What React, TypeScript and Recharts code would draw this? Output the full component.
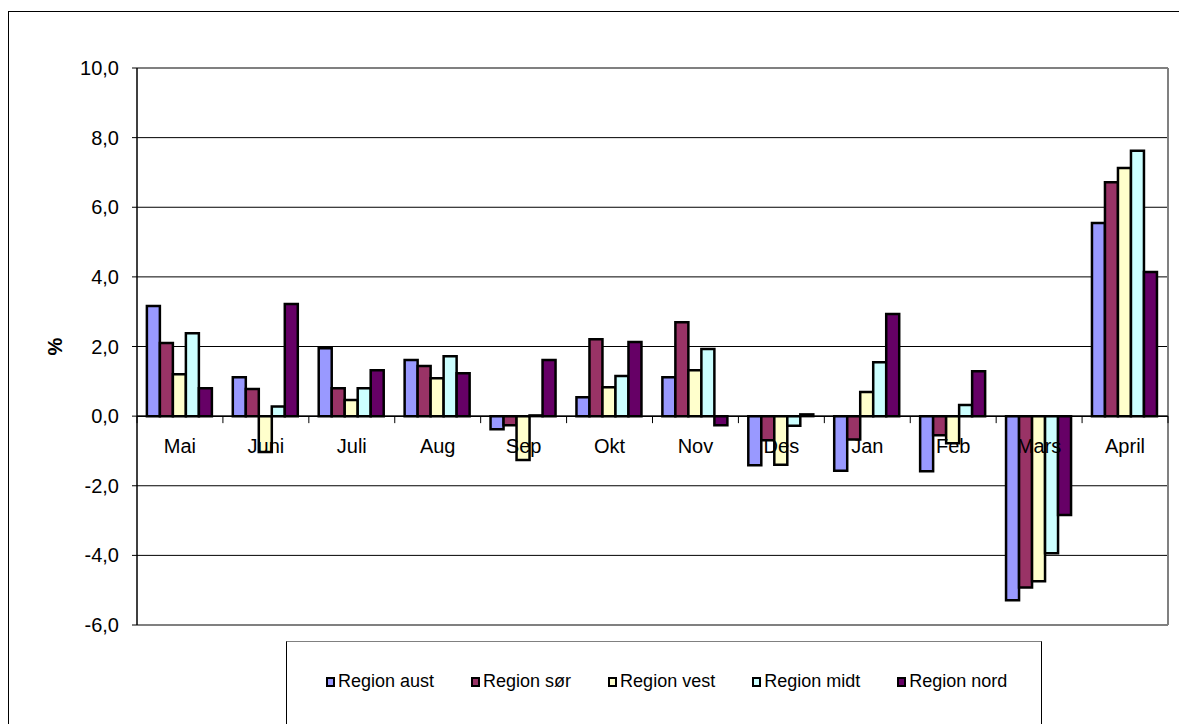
import React from "react";
import {
  BarChart,
  Bar,
  XAxis,
  YAxis,
  CartesianGrid,
  ReferenceLine,
} from "recharts";

const months = ["Mai", "Juni", "Juli", "Aug", "Sep", "Okt", "Nov", "Des", "Jan", "Feb", "Mars", "April"];
const aust = [3.16, 1.12, 1.95, 1.61, -0.38, 0.54, 1.12, -1.41, -1.57, -1.58, -5.29, 5.55];
const sor = [2.1, 0.78, 0.8, 1.44, -0.26, 2.21, 2.7, -0.69, -0.67, -0.55, -4.92, 6.72];
const vest = [1.2, -1.03, 0.46, 1.09, -1.26, 0.83, 1.32, -1.4, 0.69, -0.78, -4.74, 7.13];
const midt = [2.38, 0.28, 0.8, 1.72, 0.02, 1.15, 1.93, -0.28, 1.55, 0.32, -3.94, 7.62];
const nord = [0.8, 3.22, 1.32, 1.23, 1.61, 2.13, -0.26, 0.05, 2.93, 1.29, -2.84, 4.14];
const yTicks = [-6, -4, -2, 0, 2, 4, 6, 8, 10];

const series = [
  { key: "aust", name: "Region aust", color: "#9999FF", values: aust },
  { key: "sor", name: "Region sør", color: "#993366", values: sor },
  { key: "vest", name: "Region vest", color: "#FFFFCC", values: vest },
  { key: "midt", name: "Region midt", color: "#CCFFFF", values: midt },
  { key: "nord", name: "Region nord", color: "#660066", values: nord },
];

const data = months.map((m, i) => {
  const row: any = { month: m };
  series.forEach((s) => (row[s.key] = s.values[i]));
  return row;
});

const W = 1179;
const H = 724;
const TOP = 68;
const LEFT = 137;
const RIGHT = 11;
const BOTTOM = 99;
const PLOT_W = W - LEFT - RIGHT;
const PLOT_H = H - TOP - BOTTOM;
const Y_MIN = -6;
const Y_MAX = 10;
const ZERO_Y = TOP + (PLOT_H * Y_MAX) / (Y_MAX - Y_MIN);
const HALF_BAND = PLOT_W / months.length / 2;
const FONT = '"Liberation Sans", Arial, sans-serif';

const fmt = (v: number) => v.toFixed(1).replace(".", ",");

function MonthTick(props: any) {
  const { x, payload, index } = props;
  return (
    <g>
      <line x1={x - HALF_BAND} x2={x - HALF_BAND} y1={ZERO_Y} y2={ZERO_Y + 7} stroke="#000" strokeWidth={1} />
      {index === months.length - 1 && (
        <line x1={x + HALF_BAND} x2={x + HALF_BAND} y1={ZERO_Y} y2={ZERO_Y + 7} stroke="#000" strokeWidth={1} />
      )}
      <text x={x} y={ZERO_Y + 37} textAnchor="middle" fontSize={20} fontFamily={FONT} fill="#000">
        {payload.value}
      </text>
    </g>
  );
}

function PercentLabel(props: any) {
  const vb = props.viewBox || {};
  const cx = 55;
  const cy = vb.y + vb.height / 2;
  return (
    <text
      x={cx}
      y={cy}
      transform={`rotate(-90 ${cx} ${cy})`}
      textAnchor="middle"
      dominantBaseline="central"
      fontSize={20}
      fontWeight="bold"
      fontFamily={FONT}
      fill="#000"
    >
      %
    </text>
  );
}

export default function App() {
  return (
    <div style={{ position: "relative", width: W, height: H, overflow: "hidden", background: "#fff" }}>
      <style>{`body{margin:0}`}</style>
      <div
        style={{
          position: "absolute",
          left: 8,
          top: 11,
          width: 1300,
          height: 900,
          border: "1px solid #000",
        }}
      />
      <div style={{ position: "absolute", left: 0, top: 0 }}>
        <BarChart
          width={W}
          height={H}
          data={data}
          margin={{ top: TOP, right: RIGHT, bottom: BOTTOM - 30, left: LEFT - 100 }}
          barCategoryGap="11.5%"
          barGap={0}
        >
          <CartesianGrid horizontal vertical={false} stroke="#000" strokeWidth={1} />
          <CartesianGrid
            horizontal={false}
            vertical
            stroke="#808080"
            strokeWidth={2}
            verticalCoordinatesGenerator={({ offset }: any) => [offset.left + offset.width]}
          />
          <ReferenceLine y={Y_MAX} stroke="#808080" strokeWidth={2} />
          <ReferenceLine y={Y_MIN} stroke="#808080" strokeWidth={2} />
          <XAxis
            dataKey="month"
            height={30}
            axisLine={false}
            tickLine={false}
            interval={0}
            tick={<MonthTick />}
          />
          <YAxis
            width={100}
            domain={[Y_MIN, Y_MAX]}
            ticks={yTicks}
            allowDataOverflow
            tickFormatter={fmt}
            tickSize={5}
            tickMargin={13}
            axisLine={{ stroke: "#000", strokeWidth: 1.5 }}
            tickLine={{ stroke: "#000" }}
            tick={{ fill: "#000", fontSize: 20, fontFamily: FONT }}
            label={{ content: <PercentLabel /> }}
          />
          {series.map((s) => (
            <Bar
              key={s.key}
              dataKey={s.key}
              name={s.name}
              fill={s.color}
              stroke="#000"
              strokeWidth={2.5}
              isAnimationActive={false}
            />
          ))}
          <ReferenceLine y={0} stroke="#000" strokeWidth={1.5} />
        </BarChart>
      </div>
      <div
        style={{
          position: "absolute",
          left: 286,
          top: 641,
          width: 756,
          height: 150,
          border: "1px solid #000",
          borderTopColor: "#808080",
          background: "#fff",
          boxSizing: "border-box",
        }}
      >
        <div
          style={{
            position: "absolute",
            left: 39,
            top: 29,
            display: "flex",
            alignItems: "center",
            gap: 37,
            whiteSpace: "nowrap",
            fontFamily: FONT,
            fontSize: 18,
            color: "#000",
          }}
        >
          {series.map((s) => (
            <div key={s.key} style={{ display: "flex", alignItems: "center" }}>
              <span
                style={{
                  display: "inline-block",
                  width: 9,
                  height: 10,
                  background: s.color,
                  border: "2px solid #000",
                  boxSizing: "border-box",
                  marginRight: 3,
                }}
              />
              <span>{s.name}</span>
            </div>
          ))}
        </div>
      </div>
    </div>
  );
}
